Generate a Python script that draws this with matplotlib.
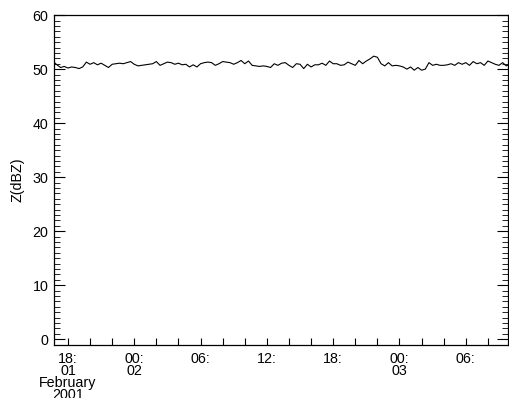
import numpy as np
import matplotlib
matplotlib.use("Agg")
import matplotlib.pyplot as plt
from matplotlib.ticker import MultipleLocator, FixedLocator

plt.rcParams['font.family'] = ['Liberation Sans', 'DejaVu Sans']

# reflectivity samples every 20 minutes, starting 2001-02-01 16:40
step_minutes = 20
z_dbz = [51.4, 50.8, 50.3, 50.5, 50.2, 50.4, 50.3, 50.1, 50.4, 51.3,
         50.9, 51.2, 50.8, 51.1, 50.7, 50.3, 50.9, 51.0, 51.1, 51.0,
         51.2, 51.4, 50.9, 50.6, 50.7, 50.8, 50.9, 51.0, 51.4, 50.7,
         51.0, 51.3, 51.2, 50.9, 51.1, 50.8, 50.9, 50.4, 50.8, 50.4,
         51.0, 51.2, 51.3, 51.2, 50.7, 51.0, 51.4, 51.3, 51.2, 50.9,
         51.2, 51.6, 51.0, 51.5, 50.7, 50.6, 50.5, 50.6, 50.5, 50.3,
         51.0, 50.7, 51.1, 51.2, 50.7, 50.3, 51.0, 50.9, 50.1, 50.9,
         50.4, 50.8, 50.8, 51.1, 50.7, 51.5, 51.0, 51.0, 50.7, 50.8,
         51.3, 51.0, 50.7, 51.6, 51.0, 51.5, 51.9, 52.4, 52.2, 51.0,
         50.6, 51.2, 50.6, 50.7, 50.6, 50.4, 50.0, 50.4, 49.8, 50.3,
         49.8, 50.0, 51.2, 50.7, 50.9, 50.7, 50.7, 50.8, 51.0, 50.7,
         51.2, 50.9, 51.2, 50.7, 51.4, 51.0, 51.2, 50.7, 51.5, 51.2,
         50.9, 50.7, 51.2, 50.6, 50.9]

# hours since 2001-02-01 00:00
hours = 16 + 40 / 60 + np.arange(len(z_dbz)) * step_minutes / 60

tick_hours = [18, 24, 30, 36, 42, 48, 54]
tick_labels = ['18:\n01\nFebruary\n2001', '00:\n02', '06:', '12:', '18:',
               '00:\n03', '06:']

fs = 10.3

fig = plt.figure(figsize=(5.09, 3.98), dpi=100)
ax = fig.add_axes([0.106, 0.133, 0.892, 0.829])

ax.plot(hours, z_dbz, color='black', linewidth=0.8)

ax.set_xlim(16 + 44 / 60, 57 + 49 / 60)
ax.set_ylim(-1.1, 60)

ax.xaxis.set_major_locator(FixedLocator(tick_hours))
ax.set_xticklabels(tick_labels, fontsize=fs, linespacing=0.82, va='top')
ax.xaxis.set_minor_locator(MultipleLocator(2))
ax.tick_params(axis='x', which='both', direction='in', length=5, width=0.8,
               top=False, pad=5)

ax.yaxis.set_major_locator(MultipleLocator(10))
ax.yaxis.set_minor_locator(MultipleLocator(1))
ax.tick_params(axis='y', which='major', direction='in', length=8, width=0.8,
               right=True, labelsize=fs, pad=4)
ax.tick_params(axis='y', which='minor', direction='in', length=4, width=0.6,
               right=True)

ax.set_ylabel('Z(dBZ)', fontsize=fs, labelpad=6)

for sp in ax.spines.values():
    sp.set_linewidth(0.9)

fig.savefig('out.png', dpi=100)
